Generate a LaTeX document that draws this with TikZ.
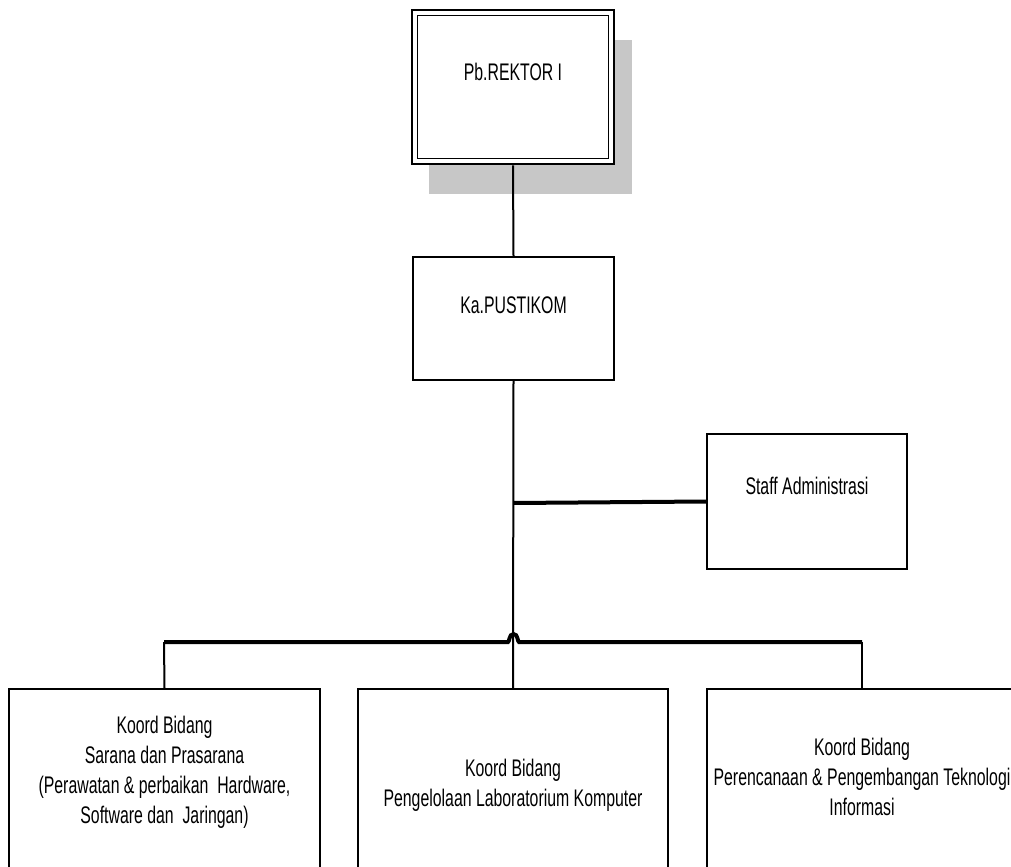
\documentclass[tikz,border=0pt]{standalone}
\usepackage{fontspec}
\setmainfont{Liberation Sans}[FakeStretch=0.66]
\begin{document}
\begin{tikzpicture}[x=0.75pt,y=-0.75pt,
  box/.style={draw=black,line width=1.5pt,fill=white,inner sep=0pt},
  txt/.style={align=center,font=\fontsize{18}{22.5}\selectfont,inner sep=0pt},
  conn/.style={draw=black,line width=1.5pt},
  thickconn/.style={draw=black,line width=3pt}]
\useasboundingbox (0,0) rectangle (1011,867);
% shadow
\fill[black!22] (429,40) rectangle (632,194);
% top box (double border)
\node[box,line width=2pt,minimum width=202*0.75pt,minimum height=154*0.75pt] (rek) at (513,87) {};
\draw[line width=1.2pt] (417.5,15.5) rectangle (608.5,158.5);
\node[txt] (rekt) at (513,72) {Pb.REKTOR I};
% Ka.PUSTIKOM
\node[box,minimum width=201*0.75pt,minimum height=123*0.75pt] (ka) at (513.5,318.5) {};
\node[txt] (kat) at (513.5,305) {Ka.PUSTIKOM};
% Staff
\node[box,minimum width=200*0.75pt,minimum height=135*0.75pt] (st) at (807,501.5) {};
\node[txt] (stt) at (807,486) {Staff Administrasi};
% bottom boxes
\node[box,anchor=north,minimum width=311*0.75pt,minimum height=200*0.75pt] (b1) at (164.5,688) {};
\node[box,anchor=north,minimum width=310*0.75pt,minimum height=200*0.75pt] (b2) at (513,688) {};
\node[box,anchor=north,minimum width=310*0.75pt,minimum height=200*0.75pt] (b3) at (862,688) {};
\node[txt] (b1t) at (164.5,772) {Koord Bidang\\Sarana dan Prasarana\\(Perawatan \& perbaikan\ \ Hardware,\\Software dan\ \ Jaringan)};
\node[txt] (b2t) at (513,785) {Koord Bidang\\Pengelolaan Laboratorium Komputer};
\node[txt] (b3t) at (862,777) {Koord Bidang\\Perencanaan \& Pengembangan Teknologi\\Informasi};
% connectors
\coordinate (j1) at (513.5,503);
\coordinate (bl) at (164,642);
\coordinate (br) at (862,642);
\draw[conn] (rek.south) -- (ka.north);
\draw[conn] (ka.south) -- (b2.north);
\draw[thickconn] (j1) -- (st.west);
\draw[thickconn] (bl) -- (508,642) .. controls (509.5,642) and (509,634) .. (513.5,634) .. controls (518,634) and (517.5,642) .. (519,642) -- (br);
\draw[conn] (bl) -- (b1.north);
\draw[conn] (br) -- (b3.north);
\end{tikzpicture}
\end{document}
